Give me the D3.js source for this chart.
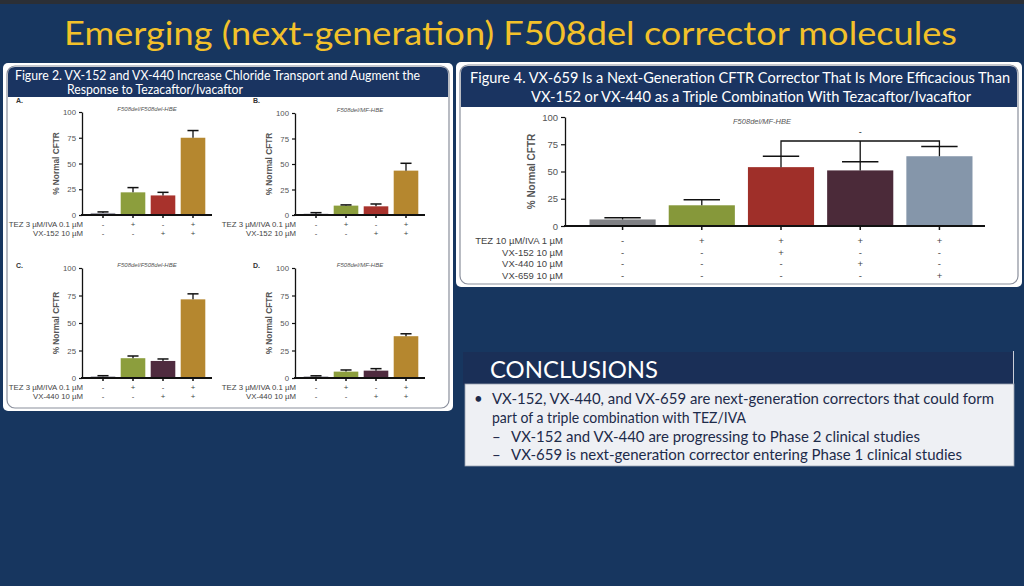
<!DOCTYPE html>
<html>
<head>
<meta charset="utf-8">
<script src="https://cdn.jsdelivr.net/npm/d3@7"></script>
<style>
  html, body { margin: 0; padding: 0; background: #17365f; }
  svg { display: block; }
</style>
</head>
<body>
<div id="slide"></div>
<script>
// ---- data ----
const slideTitle = 'Emerging (next-generation) F508del corrector molecules';

const fig2Title = [
  'Figure 2. VX-152 and VX-440 Increase Chloride Transport and Augment the',
  'Response to Tezacaftor/Ivacaftor',
];
const fig2Panels = ['A.', 'B.', 'C.', 'D.'];
const fig2Subtitles = ['F508del/F508del-HBE', 'F508del/MF-HBE', 'F508del/F508del-HBE', 'F508del/MF-HBE'];
const fig2Values = [
  [2, 22, 19, 75],
  [1.3, 9.2, 8.5, 43.5],
  [1.5, 18, 15.5, 71.5],
  [1.5, 5.8, 6.7, 38],
];
const fig2Errors = [
  [1, 4.6, 3, 7],
  [1, 0.7, 2.3, 7.2],
  [0.6, 2, 1.8, 5],
  [0.5, 1.5, 1.8, 2.2],
];
const fig2RowLabels = [
  ['TEZ 3 µM/IVA 0.1 µM', 'VX-152 10 µM'],
  ['TEZ 3 µM/IVA 0.1 µM', 'VX-152 10 µM'],
  ['TEZ 3 µM/IVA 0.1 µM', 'VX-440 10 µM'],
  ['TEZ 3 µM/IVA 0.1 µM', 'VX-440 10 µM'],
];
const fig2Signs = [
  ['-', '+', '-', '+'],
  ['-', '-', '+', '+'],
];

const fig4Title = [
  'Figure 4. VX-659 Is a Next-Generation CFTR Corrector That Is More Efficacious Than',
  'VX-152 or VX-440 as a Triple Combination With Tezacaftor/Ivacaftor',
];
const fig4Subtitle = 'F508del/MF-HBE';
const fig4Values = [6, 19, 54, 51, 64];
const fig4Errors = [1.5, 5, 10, 8, 9];
const fig4RowLabels = ['TEZ 10 µM/IVA 1 µM', 'VX-152 10 µM', 'VX-440 10 µM', 'VX-659 10 µM'];
const fig4Signs = [
  ['-', '+', '+', '+', '+'],
  ['-', '-', '+', '-', '-'],
  ['-', '-', '-', '+', '-'],
  ['-', '-', '-', '-', '+'],
];
const fig4Bracket = { from: 2, mid: 3, to: 4, level: 78 };

const yTicks = [0, 25, 50, 75, 100];

const conclusionsTitle = 'CONCLUSIONS';
const conclusionBullets = [
  'VX-152, VX-440, and VX-659 are next-generation correctors that could form',
  'part of a triple combination with TEZ/IVA',
];
const conclusionSubs = [
  'VX-152 and VX-440 are progressing to Phase 2 clinical studies',
  'VX-659 is next-generation corrector entering Phase 1 clinical studies',
];

// ---- styles ----
const colors = {
  bg: '#17365f',
  navy: '#1a3461',
  gold: '#f3c12a',
  conclText: '#1d2b4a',
  fig2: ['#a3a3ad', '#8c9e3d', '#a8322c', '#b5872f'],
  fig2Alt: '#4f2b3f',
  fig4: ['#7f8084', '#86983a', '#9f2f29', '#4b2a39', '#8596aa'],
};
const slideFont = 'Lato, "Open Sans", sans-serif';
const chartFont = '"Liberation Sans", Arial, sans-serif';

const svg = d3.select('#slide').append('svg')
  .attr('width', 1024)
  .attr('height', 586);

svg.append('rect').attr('width', 1024).attr('height', 586).attr('fill', colors.bg);
svg.append('rect').attr('width', 1024).attr('height', 4).attr('fill', '#2b2f36');

// title
svg.append('text')
  .attr('x', 64).attr('y', 45)
  .attr('textLength', 893)
  .attr('lengthAdjust', 'spacingAndGlyphs')
  .attr('font-family', slideFont)
  .attr('font-size', 33)
  .attr('fill', colors.gold)
  .text(slideTitle);

// ---- figure frames ----
function drawFrame(x, y, w, h, headerH) {
  const g = svg.append('g');
  g.append('rect').attr('x', x).attr('y', y).attr('width', w).attr('height', h)
    .attr('rx', 5).attr('fill', '#ffffff');
  g.append('rect').attr('x', x + 4).attr('y', y + 3).attr('width', w - 8).attr('height', h - 6)
    .attr('rx', 8).attr('fill', '#ffffff').attr('stroke', '#8a8f9c').attr('stroke-width', 1.2);
  g.append('path')
    .attr('d', `M${x + 5},${y + headerH + 3} V${y + 11} Q${x + 5},${y + 4} ${x + 12},${y + 4} H${x + w - 12} Q${x + w - 5},${y + 4} ${x + w - 5},${y + 11} V${y + headerH + 3} Z`)
    .attr('fill', colors.navy);
  return g;
}

drawFrame(3, 63, 450, 348, 31);
drawFrame(456, 62, 566, 225, 42);

svg.append('text')
  .attr('x', 15).attr('y', 80)
  .attr('textLength', 405).attr('lengthAdjust', 'spacingAndGlyphs')
  .attr('font-family', slideFont).attr('font-size', 12.5).attr('fill', '#fff')
  .text(fig2Title[0]);
svg.append('text')
  .attr('x', 67).attr('y', 94)
  .attr('textLength', 176).attr('lengthAdjust', 'spacingAndGlyphs')
  .attr('font-family', slideFont).attr('font-size', 12.5).attr('fill', '#fff')
  .text(fig2Title[1]);

svg.append('text')
  .attr('x', 470).attr('y', 83)
  .attr('textLength', 540).attr('lengthAdjust', 'spacingAndGlyphs')
  .attr('font-family', slideFont).attr('font-size', 14.5).attr('fill', '#fff')
  .text(fig4Title[0]);
svg.append('text')
  .attr('x', 531).attr('y', 102)
  .attr('textLength', 440).attr('lengthAdjust', 'spacingAndGlyphs')
  .attr('font-family', slideFont).attr('font-size', 15).attr('fill', '#fff')
  .text(fig4Title[1]);

// ---- bar chart ----
function drawBarChart(opt) {
  const {
    values, errors, barColors, axisX, axisEnd, top, bottom, barRange,
    padInner, padOuter, fontSize, rowLabels, signs, rowY, labelX, ylabelX,
    subtitle, subtitleX, subtitleY, subSize, tickSize, capRatio,
  } = opt;
  const g = svg.append('g');

  const x = d3.scaleBand()
    .domain(values.map((d, i) => i))
    .range(barRange)
    .paddingInner(padInner)
    .paddingOuter(padOuter);
  const y = d3.scaleLinear().domain([0, 100]).range([bottom, top]);

  // bars
  g.selectAll('rect.bar')
    .data(values)
    .join('rect')
    .attr('class', 'bar')
    .attr('x', (d, i) => x(i))
    .attr('y', (d) => y(d))
    .attr('width', x.bandwidth())
    .attr('height', (d) => y(0) - y(d))
    .attr('fill', (d, i) => barColors[i]);

  // error bars
  const cap = x.bandwidth() * capRatio;
  values.forEach((v, i) => {
    const cx = x(i) + x.bandwidth() / 2;
    g.append('line')
      .attr('x1', cx).attr('x2', cx)
      .attr('y1', y(v)).attr('y2', y(v + errors[i]))
      .attr('stroke', '#111').attr('stroke-width', 1.3);
    g.append('line')
      .attr('x1', cx - cap / 2).attr('x2', cx + cap / 2)
      .attr('y1', y(v + errors[i])).attr('y2', y(v + errors[i]))
      .attr('stroke', '#111').attr('stroke-width', 1.5);
  });

  // y axis
  const yAxis = g.append('g')
    .attr('transform', `translate(${axisX},0)`)
    .call(d3.axisLeft(y).tickValues(yTicks).tickSize(tickSize).tickSizeOuter(0));
  yAxis.select('.domain').attr('stroke', '#111').attr('stroke-width', 1.3);
  yAxis.selectAll('.tick line').attr('stroke', '#111').attr('stroke-width', 1.2);
  yAxis.selectAll('.tick text')
    .attr('font-family', chartFont).attr('font-size', fontSize).attr('fill', '#555');

  // x axis
  g.append('line')
    .attr('x1', axisX - 1).attr('x2', axisEnd)
    .attr('y1', y(0)).attr('y2', y(0))
    .attr('stroke', '#111').attr('stroke-width', 1.8);
  const xAxis = g.append('g')
    .attr('transform', `translate(0,${y(0)})`)
    .call(d3.axisBottom(x).tickSize(tickSize).tickFormat(''));
  xAxis.select('.domain').remove();
  xAxis.selectAll('.tick line').attr('stroke', '#111').attr('stroke-width', 1.5);

  // y label
  g.append('text')
    .attr('transform', `translate(${ylabelX},${(top + bottom) / 2}) rotate(-90)`)
    .attr('text-anchor', 'middle')
    .attr('font-family', chartFont).attr('font-weight', 'bold')
    .attr('font-size', fontSize + 0.5).attr('fill', '#555')
    .text('% Normal CFTR');

  // subtitle
  g.append('text')
    .attr('x', subtitleX).attr('y', subtitleY)
    .attr('text-anchor', 'middle')
    .attr('font-family', chartFont).attr('font-style', 'italic')
    .attr('font-size', subSize).attr('fill', '#555')
    .text(subtitle);

  // condition rows
  rowLabels.forEach((label, r) => {
    g.append('text')
      .attr('x', labelX).attr('y', rowY[r])
      .attr('text-anchor', 'end')
      .attr('font-family', chartFont).attr('font-size', fontSize).attr('fill', '#444')
      .text(label);
    signs[r].forEach((s, i) => {
      g.append('text')
        .attr('x', x(i) + x.bandwidth() / 2).attr('y', rowY[r])
        .attr('text-anchor', 'middle')
        .attr('font-family', chartFont).attr('font-size', fontSize).attr('fill', '#444')
        .text(s);
    });
  });

  return { g, x, y };
}

// figure 2 panels
const fig2Layout = [
  { px: 0, top: 112, bottom: 215, rowY: [227, 236], labelY: 103 },
  { px: 213, top: 113, bottom: 215, rowY: [227, 236], labelY: 103 },
  { px: 0, top: 268, bottom: 378, rowY: [390, 399], labelY: 268 },
  { px: 213, top: 268, bottom: 378, rowY: [390, 399], labelY: 268 },
];
fig2Layout.forEach((L, p) => {
  const barColors = colors.fig2.slice();
  if (p >= 2) barColors[2] = colors.fig2Alt;
  drawBarChart({
    values: fig2Values[p],
    errors: fig2Errors[p],
    barColors,
    axisX: 82 + L.px,
    axisEnd: 212 + L.px,
    top: L.top,
    bottom: L.bottom,
    barRange: [88 + L.px, 208 + L.px],
    padInner: 0.18,
    padOuter: 0.09,
    fontSize: 7.8,
    rowLabels: fig2RowLabels[p],
    signs: fig2Signs,
    rowY: L.rowY,
    labelX: 83 + L.px,
    ylabelX: 59 + L.px,
    subtitle: fig2Subtitles[p],
    subtitleX: 147 + L.px,
    subtitleY: L.top - 1,
    subSize: 6,
    tickSize: 3,
    capRatio: 0.45,
  });
  svg.append('text')
    .attr('x', p % 2 ? 253 : 16).attr('y', L.labelY)
    .attr('font-family', chartFont).attr('font-weight', 'bold')
    .attr('font-size', 7).attr('fill', '#333')
    .text(fig2Panels[p]);
});

// figure 4
const fig4 = drawBarChart({
  values: fig4Values,
  errors: fig4Errors,
  barColors: colors.fig4,
  axisX: 565,
  axisEnd: 985,
  top: 117,
  bottom: 226,
  barRange: [580, 982],
  padInner: 0.165,
  padOuter: 0.12,
  fontSize: 9.5,
  rowLabels: fig4RowLabels,
  signs: fig4Signs,
  rowY: [244, 255.5, 267, 278.5],
  labelX: 563,
  ylabelX: 535,
  subtitle: fig4Subtitle,
  subtitleX: 762,
  subtitleY: 124,
  subSize: 7.5,
  tickSize: 4,
  capRatio: 0.55,
});

// significance bracket
{
  const { x, y, g } = fig4;
  const cx = (i) => x(i) + x.bandwidth() / 2;
  const b = fig4Bracket;
  g.append('path')
    .attr('d', `M${cx(b.from)},${y(fig4Values[b.from] + fig4Errors[b.from])} V${y(b.level)} H${cx(b.to)} V${y(fig4Values[b.to] + fig4Errors[b.to])}`)
    .attr('fill', 'none').attr('stroke', '#111').attr('stroke-width', 1.3);
  g.append('line')
    .attr('x1', cx(b.mid)).attr('x2', cx(b.mid))
    .attr('y1', y(fig4Values[b.mid] + fig4Errors[b.mid])).attr('y2', y(b.level))
    .attr('stroke', '#111').attr('stroke-width', 1.3);
  g.append('text')
    .attr('x', cx(b.mid)).attr('y', y(b.level) - 6)
    .attr('text-anchor', 'middle')
    .attr('font-family', chartFont).attr('font-size', 9).attr('fill', '#222')
    .text('-');
}

// ---- conclusions ----
svg.append('rect')
  .attr('x', 463).attr('y', 352).attr('width', 551).attr('height', 33)
  .attr('fill', '#1a2f57');
svg.append('line')
  .attr('x1', 1013.5).attr('x2', 1013.5).attr('y1', 351).attr('y2', 385)
  .attr('stroke', '#c9ced8').attr('stroke-width', 1);
svg.append('rect')
  .attr('x', 465).attr('y', 384).attr('width', 549).attr('height', 82)
  .attr('fill', '#eef0f4')
  .attr('stroke', '#9aa2b2').attr('stroke-width', 0.8);
svg.append('text')
  .attr('x', 490).attr('y', 378)
  .attr('textLength', 168).attr('lengthAdjust', 'spacingAndGlyphs')
  .attr('font-family', slideFont).attr('font-size', 23).attr('fill', '#fff')
  .text(conclusionsTitle);

const conclLines = [
  { x: 492, y: 404, w: 502, t: conclusionBullets[0], mark: '•', mx: 474 },
  { x: 492, y: 423, w: 254, t: conclusionBullets[1] },
  { x: 511, y: 442, w: 409, t: conclusionSubs[0], mark: '–', mx: 492 },
  { x: 511, y: 460, w: 451, t: conclusionSubs[1], mark: '–', mx: 492 },
];
conclLines.forEach((l) => {
  svg.append('text')
    .attr('x', l.x).attr('y', l.y)
    .attr('textLength', l.w).attr('lengthAdjust', 'spacingAndGlyphs')
    .attr('font-family', slideFont).attr('font-size', 15)
    .attr('fill', colors.conclText)
    .text(l.t);
  if (l.mark) {
    svg.append('text')
      .attr('x', l.mx).attr('y', l.y)
      .attr('font-family', slideFont).attr('font-size', 15)
      .attr('fill', colors.conclText)
      .text(l.mark);
  }
});
</script>
</body>
</html>
